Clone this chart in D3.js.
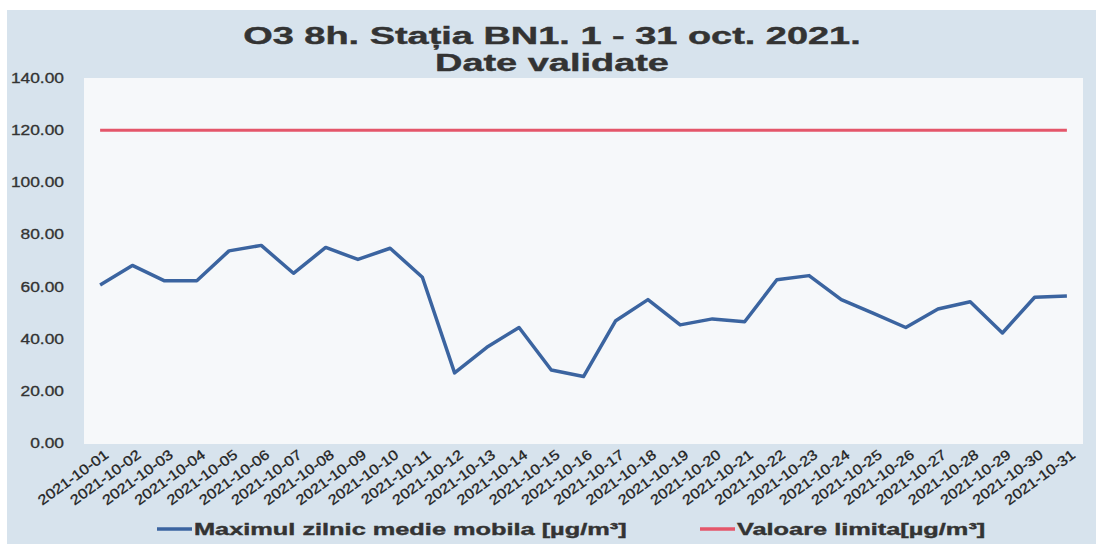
<!DOCTYPE html>
<html>
<head>
<meta charset="utf-8">
<script src="https://cdn.jsdelivr.net/npm/d3@7"></script>
<style>
  body { margin: 0; background: #fff; }
  svg { display: block; }
  text { font-family: "Liberation Sans", Arial, sans-serif; fill: #333; }
</style>
</head>
<body>
<svg width="1096" height="544"></svg>
<script>
// data
var days = ["2021-10-01","2021-10-02","2021-10-03","2021-10-04","2021-10-05","2021-10-06","2021-10-07","2021-10-08",
  "2021-10-09","2021-10-10","2021-10-11","2021-10-12","2021-10-13","2021-10-14","2021-10-15","2021-10-16",
  "2021-10-17","2021-10-18","2021-10-19","2021-10-20","2021-10-21","2021-10-22","2021-10-23","2021-10-24",
  "2021-10-25","2021-10-26","2021-10-27","2021-10-28","2021-10-29","2021-10-30","2021-10-31"];
var maxZilnic = [60.6, 68.1, 62.2, 62.2, 73.7, 75.8, 65.1, 75.0, 70.4, 74.7, 63.6, 26.9, 36.7, 44.3, 28.0, 25.5,
  46.9, 55.0, 45.3, 47.6, 46.5, 62.6, 64.2, 55.0, 49.7, 44.3, 51.4, 54.2, 42.2, 55.9, 56.4];
var limita = days.map(function() { return 120; });
var yTicks = [0, 20, 40, 60, 80, 100, 120, 140];
var titleLines = ["O3 8h. Stația BN1. 1 - 31 oct. 2021.", "Date validate"];
var seriesNames = ["Maximul zilnic medie mobila [µg/m³]", "Valoare limita[µg/m³]"];
var seriesColors = ["#3b64a0", "#e4566a"];

var chart = {

    // the scan is stretched sideways, so widen the text the same way
    stretch : function(sel, k) {
        sel.each(function() {
            var w = this.getComputedTextLength();
            d3.select(this).attr("textLength", w * k).attr("lengthAdjust", "spacingAndGlyphs");
        });
    },

    draw : function() {
        var svg = d3.select("svg");

        svg.append("rect")
            .attr("x", 7).attr("y", 10)
            .attr("width", 1089).attr("height", 534)
            .style("fill", "#d7e3ed");

        var x = d3.scalePoint().domain(days).range([84, 1083]).padding(0.5);
        var y = d3.scaleLinear().domain([0, 140]).range([443, 78]);

        svg.append("rect")
            .attr("x", 84).attr("y", 78)
            .attr("width", 999).attr("height", 366)
            .style("fill", "#f6f8fa");

        // title
        svg.selectAll("text.title")
            .data(titleLines)
            .enter()
            .append("text")
            .attr("class", "title")
            .attr("x", 552)
            .attr("y", function(d, i) { return 44 + i * 27; })
            .style("text-anchor", "middle")
            .style("font-size", "24px")
            .style("font-weight", "bold")
            .style("fill", "#333")
            .style("stroke", "#333")
            .style("stroke-width", "0.4px")
            .text(function(d) { return d; })
            .call(chart.stretch, 1.58);

        // y axis, labels only
        var yAxis = svg.append("g")
            .attr("transform", "translate(64,0)")
            .call(d3.axisLeft(y).tickValues(yTicks).tickSize(0).tickPadding(0).tickFormat(d3.format(".2f")));
        yAxis.select(".domain").remove();
        yAxis.selectAll("text")
            .style("font-size", "14px")
            .style("fill", "#333")
            .style("stroke", "#333")
            .style("stroke-width", "0.3px")
            .call(chart.stretch, 1.24);

        // x axis labels, rotated
        var xAxis = svg.append("g")
            .attr("transform", "translate(0,452)")
            .call(d3.axisBottom(x).tickSize(0).tickPadding(0));
        xAxis.select(".domain").remove();
        xAxis.selectAll("text")
            .style("text-anchor", "end")
            .style("font-size", "14px")
            .style("fill", "#222")
            .style("stroke", "#222")
            .style("stroke-width", "0.3px")
            .attr("dy", "0.6em")
            .attr("transform", "translate(4,-2) rotate(-36)")
            .call(chart.stretch, 1.16);

        var line = d3.line()
            .x(function(d, i) { return x(days[i]); })
            .y(function(d) { return y(d); });

        svg.append("path")
            .datum(limita)
            .attr("d", line)
            .style("fill", "none")
            .style("stroke", seriesColors[1])
            .style("stroke-width", "3px");

        svg.append("path")
            .datum(maxZilnic)
            .attr("d", line)
            .style("fill", "none")
            .style("stroke", seriesColors[0])
            .style("stroke-width", "3.5px")
            .style("stroke-linejoin", "round");

        // legend
        var legendX = [157, 700];
        var legG = svg.selectAll("g.leg")
            .data(seriesNames)
            .enter()
            .append("g")
            .attr("class", "leg")
            .attr("transform", function(d, i) { return "translate(" + legendX[i] + ",529)"; });
        legG.append("line")
            .attr("x1", 0).attr("x2", 35)
            .style("stroke", function(d, i) { return seriesColors[i]; })
            .style("stroke-width", "3.5px");
        legG.append("text")
            .attr("x", 37)
            .attr("y", 6)
            .style("font-size", "17px")
            .style("font-weight", "bold")
            .style("fill", "#333")
            .style("stroke", "#333")
            .style("stroke-width", "0.4px")
            .text(function(d) { return d; })
            .call(chart.stretch, 1.49);
    }
}

chart.draw();
</script>
</body>
</html>
